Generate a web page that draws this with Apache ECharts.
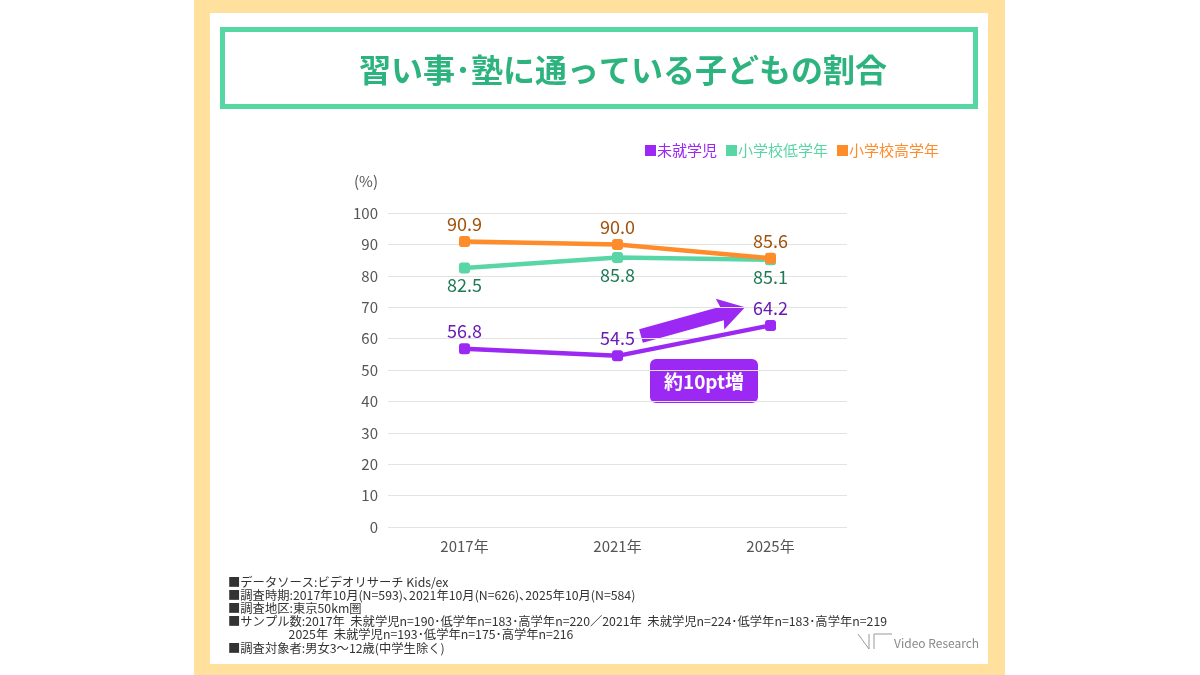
<!DOCTYPE html>
<html>
<head>
<meta charset="utf-8">
<script src="https://cdn.jsdelivr.net/npm/echarts@6/dist/echarts.min.js"></script>
<style>
    html,body{margin:0;padding:0;background:#fff;}
    #main{width:1200px;height:675px;}
</style>
</head>
<body>
<div id="main"></div>
<script>
    var years = ['2017年', '2021年', '2025年'];
    var preschool = [56.8, 54.5, 64.2];
    var lowerGrade = [82.5, 85.8, 85.1];
    var upperGrade = [90.9, 90.0, 85.6];
    var seriesNames = ['未就学児', '小学校低学年', '小学校高学年'];
    var yTicks = {min: 0, max: 100, interval: 10};

    var notes = [
        '■データソース:ビデオリサーチ Kids/ex',
        '■調査時期:2017年10月(N=593)､2021年10月(N=626)､2025年10月(N=584)',
        '■調査地区:東京50km圏',
        '■サンプル数:2017年  未就学児n=190･低学年n=183･高学年n=220／2021年  未就学児n=224･低学年n=183･高学年n=219',
        '                      2025年  未就学児n=193･低学年n=175･高学年n=216',
        '■調査対象者:男女3～12歳(中学生除く)'
    ];

    var FONT = '"Noto Sans CJK JP", "Noto Sans", sans-serif';
    var PURPLE = '#9B28F3', GREEN = '#58D6A5', ORANGE = '#FF8C2B';

    var myChart = echarts.init(document.getElementById('main'));

    //背景・タイトル・注記
    var graphics = [
        {type: 'rect', z: -10, shape: {x: 194, y: 0, width: 811, height: 675}, style: {fill: '#FFE09C'}},
        {type: 'rect', z: -9, shape: {x: 210, y: 13, width: 778, height: 651}, style: {fill: '#fff'}},
        {type: 'rect', z: -8, shape: {x: 222.5, y: 29.5, width: 753, height: 77}, style: {fill: 'none', stroke: '#55D6A3', lineWidth: 5}},
        {type: 'text', style: {x: 623, y: 70, text: '習い事･塾に通っている子どもの割合', fill: '#2DB37E',
            font: 'bold 32px ' + FONT, textAlign: 'center', textVerticalAlign: 'middle'}},
        {type: 'text', style: {x: 366, y: 181, text: '(%)', fill: '#555',
            font: '15px ' + FONT, textAlign: 'center', textVerticalAlign: 'middle'}},
        //矢印
        {type: 'polygon', x: 641, y: 336, rotation: 0.27,
            shape: {points: [[0, -7], [84, -7], [82, -16], [108, 0], [82, 16], [84, 7], [0, 7]]},
            style: {fill: PURPLE}},
        {type: 'rect', shape: {x: 650, y: 359, width: 108, height: 44, r: 6}, style: {fill: PURPLE}},
        {type: 'text', style: {x: 704, y: 382, text: '約10pt増', fill: '#fff',
            font: 'bold 19px ' + FONT, textAlign: 'center', textVerticalAlign: 'middle'}},
        //ロゴ
        {type: 'polyline', shape: {points: [[858, 634], [869, 649], [869, 634]]}, style: {stroke: '#999', lineWidth: 1, fill: 'none'}},
        {type: 'polyline', shape: {points: [[874, 649], [874, 634], [892, 634]]}, style: {stroke: '#999', lineWidth: 1, fill: 'none'}},
        {type: 'text', style: {x: 894, y: 643, text: 'Video Research', fill: '#888',
            font: '12px ' + FONT, textVerticalAlign: 'middle'}}
    ];
    notes.forEach(function (t, i) {
        graphics.push({type: 'text', style: {x: 228, y: 582 + i * 13.2, text: t, fill: '#333',
            font: '12.3px ' + FONT, textVerticalAlign: 'middle'}});
    });

    function lineSeries(name, data, color, labelColor, pos) {
        return {
            name: name,
            type: 'line',
            data: data,
            symbol: 'roundRect',
            symbolSize: 11,
            lineStyle: {width: 4.5, color: color},
            itemStyle: {color: color},
            label: {
                show: true,
                position: pos,
                distance: 3,
                color: labelColor,
                fontSize: 18,
                fontFamily: FONT,
                formatter: function (p) { return p.value.toFixed(1); }
            }
        };
    }

    var option = {
        animation: false,
        textStyle: {fontFamily: FONT},
        graphic: graphics,
        legend: {
            top: 138,
            right: 256,
            icon: 'rect',
            itemWidth: 11,
            itemHeight: 11,
            itemGap: 9,
            textStyle: {fontSize: 15, padding: [0, 0, 0, -4]},
            data: [
                {name: seriesNames[0], textStyle: {color: PURPLE}},
                {name: seriesNames[1], textStyle: {color: GREEN}},
                {name: seriesNames[2], textStyle: {color: ORANGE}}
            ]
        },
        grid: {left: 388, right: 353, top: 213, bottom: 148},
        xAxis: {
            type: 'category',
            data: years,
            axisLine: {show: false},
            axisTick: {show: false},
            axisLabel: {color: '#555', fontSize: 15, margin: 12}
        },
        yAxis: {
            type: 'value',
            min: yTicks.min,
            max: yTicks.max,
            interval: yTicks.interval,
            axisLine: {show: false},
            axisTick: {show: false},
            axisLabel: {color: '#555', fontSize: 15, margin: 10},
            splitLine: {lineStyle: {color: '#E3E3E3', width: 1}}
        },
        series: [
            lineSeries(seriesNames[1], lowerGrade, GREEN, '#1F7A55', 'bottom'),
            lineSeries(seriesNames[2], upperGrade, ORANGE, '#A0520C', 'top'),
            lineSeries(seriesNames[0], preschool, PURPLE, '#6A1AB5', 'top')
        ]
    };
    myChart.setOption(option, true);
</script>
</body>
</html>
